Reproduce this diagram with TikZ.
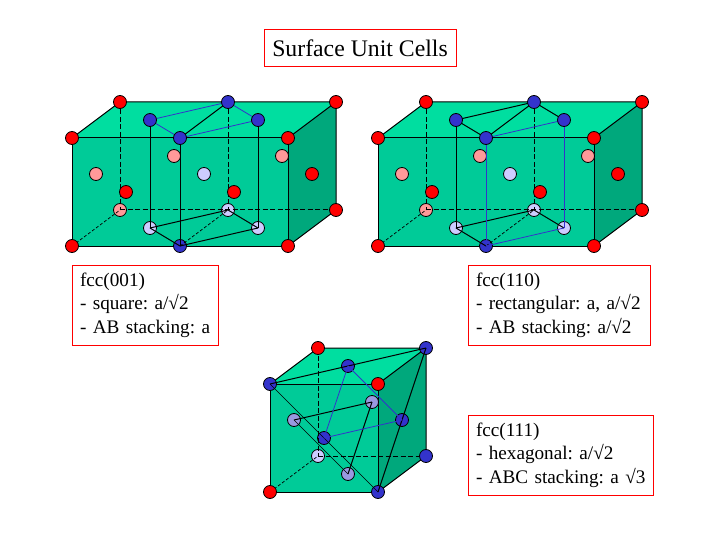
\documentclass[tikz,border=0pt]{standalone}
\usepackage{fontspec}
\setmainfont[WordSpace=0.75]{Liberation Serif}
\newfontfamily\titlefont{Liberation Serif}
\definecolor{facetop}{RGB}{0,222,160}
\definecolor{facefront}{RGB}{0,203,152}
\definecolor{faceside}{RGB}{0,168,124}
\definecolor{atomblue}{RGB}{51,51,204}
\definecolor{atompink}{RGB}{255,153,153}
\definecolor{atomlight}{RGB}{204,204,255}
\definecolor{atompurple}{RGB}{153,153,224}
\definecolor{linkblue}{RGB}{51,51,204}
\pgfdeclarelayer{faces}
\pgfdeclarelayer{dim}
\pgfdeclarelayer{lines}
\pgfsetlayers{faces,dim,lines,main}
\tikzset{
  atom/.style={circle,draw=black,line width=0.8pt,inner sep=0pt,minimum size=13pt},
  red atom/.style={atom,fill=red},
  blue atom/.style={atom,fill=atomblue},
  pink atom/.style={atom,fill=atompink},
  light atom/.style={atom,fill=atomlight},
  purple atom/.style={atom,fill=atompurple},
  edge line/.style={draw=black,line width=1pt,line join=round},
  bond/.style={draw=black,line width=1pt},
  thin bond/.style={draw=black,line width=0.7pt},
  blue bond/.style={draw=linkblue,line width=0.8pt},
  hidden/.style={draw=black,line width=1pt,dash pattern=on 5pt off 2.5pt},
  thin hidden/.style={draw=black,line width=0.7pt,dash pattern=on 3pt off 2pt},
  label box/.style={draw=red,line width=1pt,inner sep=0pt,font=\frenchspacing\fontsize{19.2}{23.5}\selectfont,align=left,anchor=north west,minimum height=80pt},
  title box/.style={draw=red,line width=1pt,font=\titlefont\fontsize{23.75}{26}\selectfont,inner sep=0pt,minimum width=192pt,minimum height=37pt}
}
% shared atoms, faces and bonds of the two long cells
\newcommand{\longcell}[2]{%
\begin{scope}[shift={(#2,0)}]
  \node[red atom] (#1c1) at (72,138) {};
  \node[red atom] (#1c2) at (288,138) {};
  \node[red atom] (#1c3) at (288,246) {};
  \node[red atom] (#1c4) at (72,246) {};
  \node[red atom] (#1c5) at (120,102) {};
  \node[red atom] (#1c6) at (336,102) {};
  \node[red atom] (#1c7) at (336,210) {};
  \node[red atom] (#1m1) at (126,192) {};
  \node[red atom] (#1m2) at (234,192) {};
  \node[red atom] (#1m3) at (312,174) {};
  \node[blue atom] (#1t1) at (150,120) {};
  \node[blue atom] (#1t2) at (228,102) {};
  \node[blue atom] (#1t3) at (258,120) {};
  \node[blue atom] (#1t4) at (180,138) {};
  \begin{pgfonlayer}{dim}
    \node[blue atom] (#1b4) at (180,246) {};
    \node[pink atom] (#1c8) at (120,210) {};
    \node[pink atom] (#1p1) at (96,174) {};
    \node[pink atom] (#1p2) at (174,156) {};
    \node[pink atom] (#1p3) at (282,156) {};
    \node[light atom] (#1l1) at (204,174) {};
    \node[light atom] (#1b1) at (150,228) {};
    \node[light atom] (#1b2) at (228,210) {};
    \node[light atom] (#1b3) at (258,228) {};
  \end{pgfonlayer}
\end{scope}
\begin{pgfonlayer}{faces}
  \fill[facefront] (#1c1.center) -- (#1c2.center) -- (#1c3.center) -- (#1c4.center) -- cycle;
  \fill[facetop] (#1c1.center) -- (#1c5.center) -- (#1c6.center) -- (#1c2.center) -- cycle;
  \fill[faceside] (#1c2.center) -- (#1c6.center) -- (#1c7.center) -- (#1c3.center) -- cycle;
  \path[edge line] (#1c1.center) -- (#1c2.center) -- (#1c3.center) -- (#1c4.center) -- cycle;
  \path[edge line] (#1c1.center) -- (#1c5.center) -- (#1c6.center) -- (#1c2.center);
  \path[edge line] (#1c6.center) -- (#1c7.center) -- (#1c3.center);
\end{pgfonlayer}
\begin{pgfonlayer}{lines}
  \path[hidden] (#1c5.center) -- (#1c8.center);
  \path[hidden] (#1t2.center) -- (#1b2.center);
  \path[hidden] (#1c8.center) -- (#1c7.center);
  \path[thin hidden] (#1c4.center) -- (#1c8.center);
  \path[thin hidden] (#1b4.center) -- (#1b2.center);
  \path[bond] (#1t1.center) -- (#1b1.center);
  \path[bond] (#1t4.center) -- (#1t2.center);
  \path[bond] (#1b1.center) -- (#1b2.center);
  \path[bond] (#1b1.center) -- (#1b4.center);
  \path[bond] (#1b2.center) -- (#1b3.center);
\end{pgfonlayer}
}
\begin{document}
\begin{tikzpicture}[x=1pt,y=-1pt]
\useasboundingbox (0,0) rectangle (720,540);
\begin{pgfonlayer}{faces}
  \fill[white] (0,0) rectangle (720,540);
\end{pgfonlayer}

\node[title box] (title) at (360,48.5) {Surface Unit Cells};

% fcc(001)
\longcell{a}{0}
\begin{pgfonlayer}{lines}
  \path[blue bond] (at1.center) -- (at2.center);
  \path[blue bond] (at1.center) -- (at4.center);
  \path[blue bond] (at2.center) -- (at3.center);
  \path[blue bond] (at4.center) -- (at3.center);
  \path[bond] (at4.center) -- (ab4.center);
  \path[bond] (at3.center) -- (ab3.center);
  \path[bond] (ab4.center) -- (ab3.center);
\end{pgfonlayer}

% fcc(110)
\longcell{b}{306}
\begin{pgfonlayer}{lines}
  \path[bond] (bt1.center) -- (bt2.center);
  \path[bond] (bt1.center) -- (bt4.center);
  \path[bond] (bt2.center) -- (bt3.center);
  \path[blue bond] (bt4.center) -- (bt3.center);
  \path[blue bond] (bt4.center) -- (bb4.center);
  \path[blue bond] (bt3.center) -- (bb3.center);
  \path[blue bond] (bb4.center) -- (bb3.center);
\end{pgfonlayer}

% fcc(111)
\node[red atom] (c1) at (378,384) {};
\node[red atom] (c2) at (270,492) {};
\node[red atom] (c3) at (318,348) {};
\node[blue atom] (c4) at (426,456) {};
\begin{pgfonlayer}{dim}
  \node[blue atom] (c5) at (270,384) {};
  \node[blue atom] (c6) at (378,492) {};
  \node[blue atom] (c7) at (426,348) {};
  \node[blue atom] (f1) at (348,366) {};
  \node[blue atom] (f2) at (402,420) {};
  \node[blue atom] (f3) at (324,438) {};
  \node[purple atom] (f4) at (294,420) {};
  \node[purple atom] (f5) at (372,402) {};
  \node[purple atom] (f6) at (348,474) {};
  \node[light atom] (c8) at (318,456) {};
\end{pgfonlayer}
\begin{pgfonlayer}{faces}
  \fill[facefront] (c5.center) -- (c1.center) -- (c6.center) -- (c2.center) -- cycle;
  \fill[facetop] (c5.center) -- (c3.center) -- (c7.center) -- (c1.center) -- cycle;
  \fill[faceside] (c1.center) -- (c7.center) -- (c4.center) -- (c6.center) -- cycle;
  \path[edge line] (c5.center) -- (c1.center) -- (c6.center) -- (c2.center) -- cycle;
  \path[edge line] (c5.center) -- (c3.center) -- (c7.center) -- (c1.center);
  \path[edge line] (c7.center) -- (c4.center) -- (c6.center);
\end{pgfonlayer}
\begin{pgfonlayer}{lines}
  \path[hidden] (c3.center) -- (c8.center);
  \path[hidden] (c8.center) -- (c4.center);
  \path[thin hidden] (c2.center) -- (c8.center);
  \path[bond] (c5.center) -- (c7.center);
  \path[bond] (c7.center) -- (c6.center);
  \path[thin bond] (c5.center) -- (c6.center);
  \path[bond] (f4.center) -- (f5.center);
  \path[bond] (f5.center) -- (f6.center);
  \path[thin bond] (f4.center) -- (f6.center);
  \path[blue bond] (f1.center) -- (f3.center);
  \path[blue bond] (f3.center) -- (f2.center);
  \path[blue bond] (f2.center) -- (f1.center);
\end{pgfonlayer}

% labels
\node[label box,minimum width=146pt,text width=146pt] (la) at (72,264.5) {\hspace*{7.5pt}fcc(001)\\\hspace*{7.5pt}- square: a/√2\\\hspace*{7.5pt}- AB stacking: a};
\node[label box,minimum width=182pt,text width=182pt] (lb) at (468,264.5) {\hspace*{7.5pt}fcc(110)\\\hspace*{7.5pt}- rectangular: a, a/√2\\\hspace*{7.5pt}- AB stacking: a/√2};
\node[label box,minimum width=185pt,text width=185pt] (lc) at (468,414.5) {\hspace*{7.5pt}fcc(111)\\\hspace*{7.5pt}- hexagonal: a/√2\\\hspace*{7.5pt}- ABC stacking: a √3};
\end{tikzpicture}
\end{document}
